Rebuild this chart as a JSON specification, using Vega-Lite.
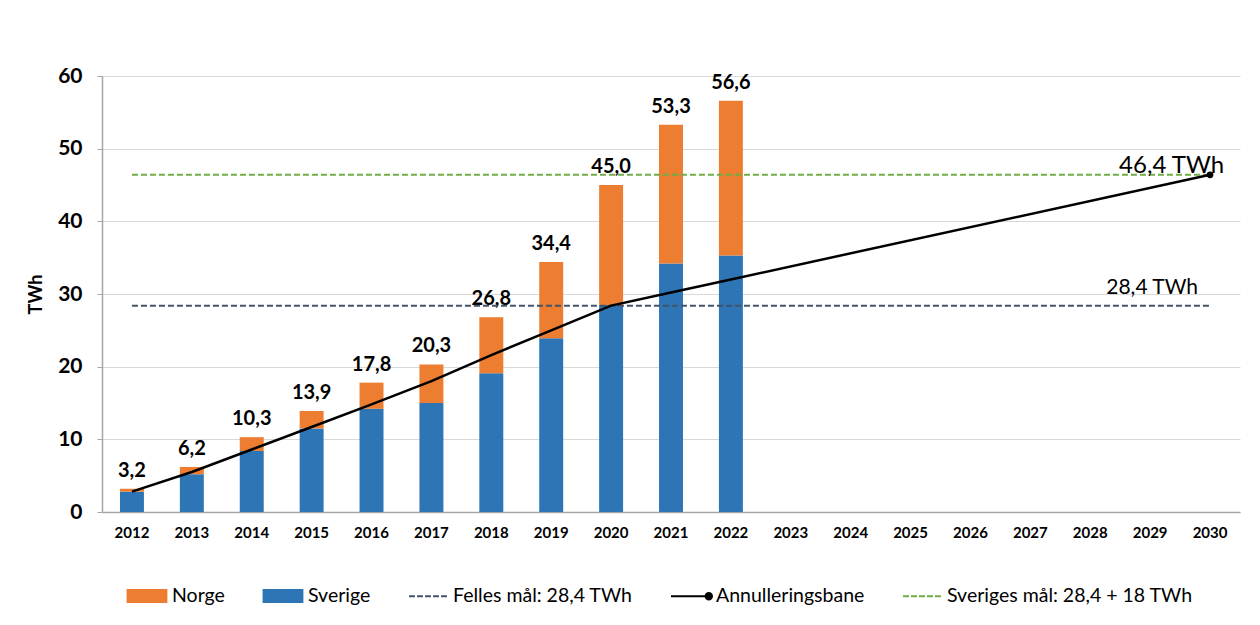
{
  "$schema": "https://vega.github.io/schema/vega-lite/v6.json",
  "width": 1138,
  "height": 436,
  "autosize": {"type": "none"},
  "padding": {"left": 102, "top": 76, "right": 20, "bottom": 113},
  "background": "white",
  "config": {
    "locale": {"number": {"decimal": ",", "thousands": " ", "grouping": [3], "currency": ["", ""]}},
    "view": {"stroke": null},
    "font": "Lato"
  },
  "datasets": {
    "bars": [
      {"year": "2012", "series": "Sverige", "value": 2.8}, {"year": "2012", "series": "Norge", "value": 0.4},
      {"year": "2013", "series": "Sverige", "value": 5.2}, {"year": "2013", "series": "Norge", "value": 1.0},
      {"year": "2014", "series": "Sverige", "value": 8.4}, {"year": "2014", "series": "Norge", "value": 1.9},
      {"year": "2015", "series": "Sverige", "value": 11.5}, {"year": "2015", "series": "Norge", "value": 2.4},
      {"year": "2016", "series": "Sverige", "value": 14.2}, {"year": "2016", "series": "Norge", "value": 3.6},
      {"year": "2017", "series": "Sverige", "value": 15.0}, {"year": "2017", "series": "Norge", "value": 5.3},
      {"year": "2018", "series": "Sverige", "value": 19.1}, {"year": "2018", "series": "Norge", "value": 7.7},
      {"year": "2019", "series": "Sverige", "value": 23.9}, {"year": "2019", "series": "Norge", "value": 10.5},
      {"year": "2020", "series": "Sverige", "value": 28.5}, {"year": "2020", "series": "Norge", "value": 16.5},
      {"year": "2021", "series": "Sverige", "value": 34.2}, {"year": "2021", "series": "Norge", "value": 19.1},
      {"year": "2022", "series": "Sverige", "value": 35.3}, {"year": "2022", "series": "Norge", "value": 21.3}
    ],
    "bane": [
      {"year": "2012", "series": "Annulleringsbane", "value": 2.8},
      {"year": "2013", "series": "Annulleringsbane", "value": 5.5},
      {"year": "2014", "series": "Annulleringsbane", "value": 8.6},
      {"year": "2015", "series": "Annulleringsbane", "value": 11.7},
      {"year": "2016", "series": "Annulleringsbane", "value": 14.8},
      {"year": "2017", "series": "Annulleringsbane", "value": 18.0},
      {"year": "2018", "series": "Annulleringsbane", "value": 21.6},
      {"year": "2019", "series": "Annulleringsbane", "value": 25.0},
      {"year": "2020", "series": "Annulleringsbane", "value": 28.4},
      {"year": "2021", "series": "Annulleringsbane", "value": 30.2},
      {"year": "2022", "series": "Annulleringsbane", "value": 32.0},
      {"year": "2030", "series": "Annulleringsbane", "value": 46.4}
    ],
    "targets": [
      {"year": "2012", "series": "Felles mål: 28,4 TWh", "value": 28.4},
      {"year": "2030", "series": "Felles mål: 28,4 TWh", "value": 28.4},
      {"year": "2012", "series": "Sveriges mål: 28,4 + 18 TWh", "value": 46.4},
      {"year": "2030", "series": "Sveriges mål: 28,4 + 18 TWh", "value": 46.4}
    ]
  },
  "encoding": {
    "x": {
      "field": "year",
      "type": "ordinal",
      "scale": {
        "domain": ["2012","2013","2014","2015","2016","2017","2018","2019","2020","2021","2022","2023","2024","2025","2026","2027","2028","2029","2030"],
        "paddingInner": 0.6,
        "paddingOuter": 0.3
      },
      "axis": {
        "title": null,
        "labelAngle": 0,
        "labelFontSize": 15,
        "labelFontWeight": "bold",
        "labelColor": "black",
        "labelPadding": 13,
        "ticks": false,
        "domainColor": "#a6a6a6",
        "domainWidth": 1.5,
        "grid": false
      }
    }
  },
  "layer": [
    {
      "data": {"name": "bars"},
      "mark": {"type": "bar"},
      "encoding": {
        "y": {
          "field": "value",
          "type": "quantitative",
          "aggregate": "sum",
          "stack": "zero",
          "scale": {"domain": [0, 60], "nice": false},
          "axis": {
            "title": "TWh",
            "titleFontSize": 18,
            "titleFontWeight": "bold",
            "titleColor": "black",
            "titlePadding": 12,
            "labelFontSize": 21,
            "labelFontWeight": "bold",
            "labelColor": "black",
            "labelPadding": 15,
            "tickSize": 5,
            "tickColor": "#a6a6a6",
            "domainColor": "#a6a6a6",
            "domainWidth": 1.5,
            "gridColor": "#d9d9d9",
            "gridWidth": 1.2,
            "values": [0, 10, 20, 30, 40, 50, 60]
          }
        },
        "color": {
          "field": "series",
          "type": "nominal",
          "scale": {
            "domain": ["Norge", "Sverige", "Felles mål: 28,4 TWh", "Annulleringsbane", "Sveriges mål: 28,4 + 18 TWh"],
            "range": ["#ED7D31", "#2E75B6", "#44546A", "#000000", "#70AD47"]
          },
          "legend": {
            "title": null,
            "orient": "none",
            "direction": "horizontal",
            "legendX": 24,
            "legendY": 499,
            "padding": 0,
            "columns": 5,
            "columnPadding": 34,
            "symbolSize": 1600,
            "labelFontSize": 19.5,
            "labelColor": "black",
            "labelOffset": 4,
            "labelLimit": 400,
            "encode": {
              "symbols": {
                "update": {
                  "shape": {"signal": "datum.value === 'Norge' || datum.value === 'Sverige' ? 'M-0.97,-0.3H0.97V0.3H-0.97Z' : datum.value === 'Annulleringsbane' ? 'M-1,0H0.75M1.05,0A0.16,0.16 0 1,1 0.73,0A0.16,0.16 0 1,1 1.05,0' : 'M-0.95,0H-0.65M-0.55,0H-0.25M-0.15,0H0.15M0.25,0H0.55M0.65,0H0.95'"},
                  "fill": {"scale": "color", "field": "value"},
                  "stroke": {"scale": "color", "field": "value"},
                  "strokeWidth": {"value": 2},
                  "opacity": {"value": 1},
                  "fillOpacity": {"value": 1}
                }
              }
            }
          }
        },
        "order": {"field": "series", "sort": "descending"}
      }
    },
    {
      "data": {"name": "bars"},
      "transform": [{"aggregate": [{"op": "sum", "field": "value", "as": "total"}], "groupby": ["year"]}],
      "mark": {"type": "text", "fontSize": 20, "fontWeight": "bold", "color": "black", "baseline": "alphabetic", "dy": -12},
      "encoding": {
        "y": {"field": "total", "type": "quantitative"},
        "text": {"field": "total", "type": "quantitative", "format": ".1f"}
      }
    },
    {
      "data": {"name": "targets"},
      "mark": {"type": "line", "strokeDash": [6, 3], "strokeWidth": 2},
      "encoding": {
        "y": {"field": "value", "type": "quantitative"},
        "color": {"field": "series", "type": "nominal"}
      }
    },
    {
      "data": {"name": "bane"},
      "mark": {"type": "line", "strokeWidth": 2.5},
      "encoding": {
        "y": {"field": "value", "type": "quantitative"},
        "color": {"field": "series", "type": "nominal"}
      }
    },
    {
      "data": {"name": "bane"},
      "transform": [{"filter": "datum.year === '2030'"}],
      "mark": {"type": "point", "filled": true, "size": 45, "opacity": 1, "color": "black"},
      "encoding": {
        "y": {"field": "value", "type": "quantitative"}
      }
    },
    {
      "data": {"values": [{"year": "2030", "value": 46.4, "label": "46,4 TWh"}]},
      "mark": {"type": "text", "fontSize": 24, "color": "black", "align": "right", "baseline": "alphabetic", "dx": 14, "dy": -2},
      "encoding": {
        "y": {"field": "value", "type": "quantitative"},
        "text": {"field": "label"}
      }
    },
    {
      "data": {"values": [{"year": "2029", "value": 28.4, "label": "28,4 TWh"}]},
      "mark": {"type": "text", "fontSize": 21, "color": "black", "align": "center", "baseline": "alphabetic", "dx": 2, "dy": -12},
      "encoding": {
        "y": {"field": "value", "type": "quantitative"},
        "text": {"field": "label"}
      }
    }
  ]
}
